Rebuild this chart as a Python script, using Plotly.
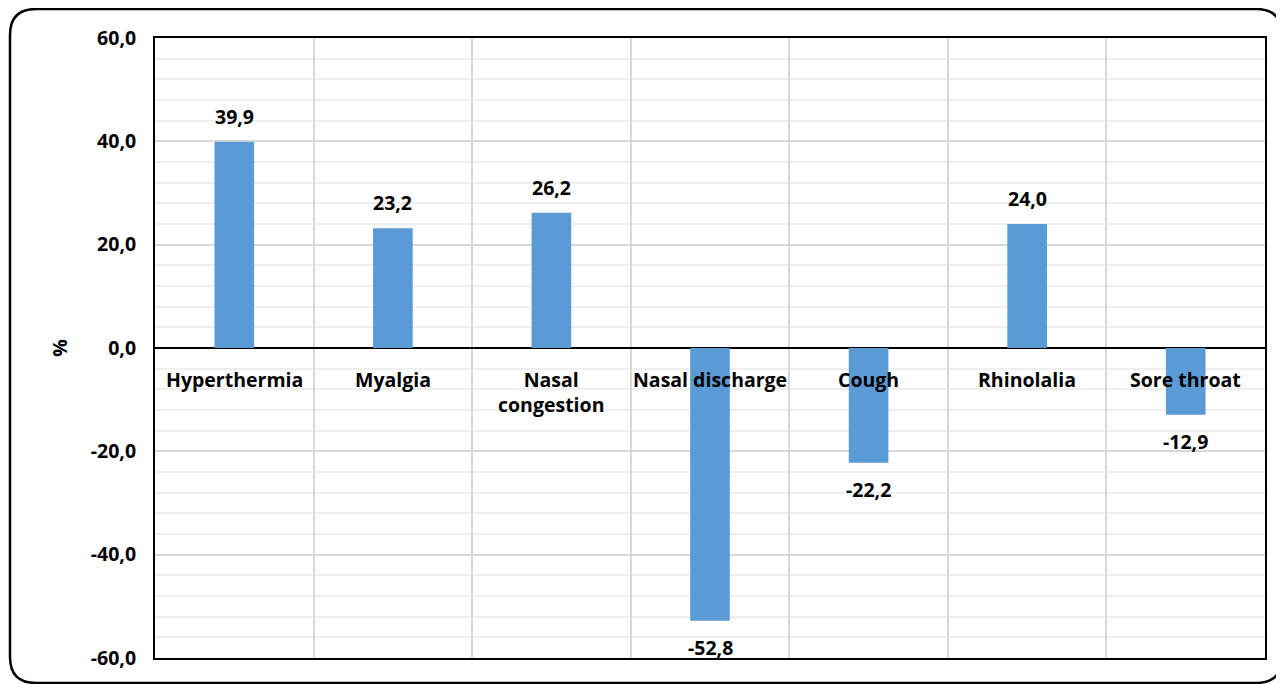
import plotly.graph_objects as go

categories = ["Hyperthermia", "Myalgia", "Nasal<br>congestion", "Nasal discharge", "Cough", "Rhinolalia", "Sore throat"]
values = [39.9, 23.2, 26.2, -52.8, -22.2, 24.0, -12.9]
y_ticks = [-60, -40, -20, 0, 20, 40, 60]
y_tick_labels = ["-60,0", "-40,0", "-20,0", "0,0", "20,0", "40,0", "60,0"]

FONT = "Open Sans"
FS = 19.5
# page body has an 8px default margin; figure coordinates are shifted accordingly
OFF = 8
W, H = 1284, 684
L, R, T, B = 155 - OFF, 19 + OFF, 38 - OFF, 26 + OFF
x_idx = list(range(len(categories)))

fig = go.Figure()
fig.add_trace(go.Bar(x=x_idx, y=values, width=0.25, marker=dict(color="#5B9BD5", line=dict(width=0)),
                     hoverinfo="skip"))

bold = dict(family=FONT, size=FS, color="#000000", weight="bold")
annotations = []
for i, (c, v) in enumerate(zip(categories, values)):
    lab = f"{v:.1f}".replace(".", ",")
    annotations.append(dict(x=i, y=v, xref="x", yref="y", text=lab, showarrow=False,
                            yanchor="bottom" if v >= 0 else "top",
                            yshift=10 if v >= 0 else -11,
                            font=bold))
    annotations.append(dict(x=i, y=0, xref="x", yref="y", text=c, showarrow=False,
                            yanchor="top", yshift=-16,
                            font=bold))

# outer rounded border in paper coordinates (page pixel coords converted)
pw, ph = W - L - R, H - T - B
def px(xp): return (xp - OFF - L) / pw
def py(yp): return (H - B - (yp - OFF)) / ph
x0, x1, y0, y1, r = 10, 1282, 9, 683, 26
path = (f"M {px(x0+r)},{py(y0)} L {px(x1-r)},{py(y0)} Q {px(x1)},{py(y0)} {px(x1)},{py(y0+r)} "
        f"L {px(x1)},{py(y1-r)} Q {px(x1)},{py(y1)} {px(x1-r)},{py(y1)} "
        f"L {px(x0+r)},{py(y1)} Q {px(x0)},{py(y1)} {px(x0)},{py(y1-r)} "
        f"L {px(x0)},{py(y0+r)} Q {px(x0)},{py(y0)} {px(x0+r)},{py(y0)} Z")

fig.update_layout(
    width=W, height=H,
    margin=dict(l=L, r=R, t=T, b=B),
    paper_bgcolor="white", plot_bgcolor="white",
    showlegend=False,
    annotations=annotations,
    shapes=[dict(type="path", xref="paper", yref="paper", path=path,
                 line=dict(color="black", width=2.5), fillcolor="rgba(0,0,0,0)", layer="above")],
    xaxis=dict(range=[-0.5, len(categories) - 0.5], tickvals=[i + 0.5 for i in range(len(categories) - 1)],
               showticklabels=False, ticks="", showgrid=True, gridcolor="#d9d9d9", gridwidth=1.5,
               showline=True, linecolor="black", linewidth=2, mirror=True, zeroline=False, fixedrange=True),
    yaxis=dict(range=[-60, 60], tickvals=y_ticks, ticktext=y_tick_labels, ticks="",
               showgrid=True, gridcolor="#d9d9d9", gridwidth=1.5,
               minor=dict(dtick=4, tick0=0, showgrid=True, gridcolor="#efefef", gridwidth=1.5),
               zeroline=True, zerolinecolor="black", zerolinewidth=2,
               showline=True, linecolor="black", linewidth=2, mirror=True,
               ticklabelstandoff=13,
               tickfont=bold,
               title=dict(text="%", font=bold, standoff=18)),
)

fig.write_html("out.html")
